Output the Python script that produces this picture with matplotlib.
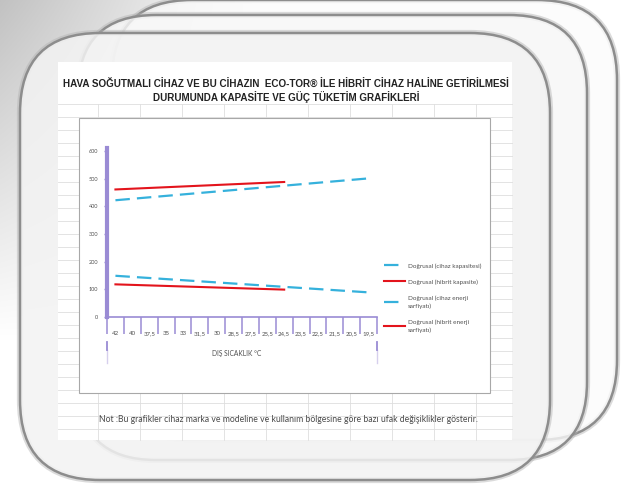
import numpy as np
import matplotlib
matplotlib.use("Agg")
import matplotlib.pyplot as plt
from matplotlib.patches import FancyBboxPatch, Rectangle
from matplotlib.transforms import blended_transform_factory

# categories (outside temperature, degC)
sicaklik = ["42", "40", "37,5", "35", "33", "31,5", "30", "28,5",
            "27,5", "25,5", "24,5", "23,5", "22,5", "21,5", "20,5", "19,5"]

# linear trendlines: category index of start/end and value there
cihaz_kapasite_idx = [0, 15]
cihaz_kapasite = [422, 501]
hibrit_kapasite_idx = [0, 10]
hibrit_kapasite = [461, 488]
cihaz_enerji_idx = [0, 15]
cihaz_enerji = [149, 89]
hibrit_enerji_idx = [0, 10]
hibrit_enerji = [118, 99]

y_ticks = [0, 100, 200, 300, 400, 500, 600]

baslik = ("HAVA SOĞUTMALI CİHAZ VE BU CİHAZIN  ECO-TOR® İLE HİBRİT CİHAZ HALİNE GETİRİLMESİ\n"
          "DURUMUNDA KAPASİTE VE GÜÇ TÜKETİM GRAFİKLERİ")
not_metni = ("Not :Bu grafikler cihaz marka ve modeline ve kullanım bölgesine "
             "göre bazı ufak değişiklikler gösterir.")

W, H = 621, 484
PURPLE = "#9a8bd4"
CYAN = "#35b1dc"
RED = "#e3141c"
TXT = "#505050"
FONT = ["Lato", "DejaVu Sans"]

fig = plt.figure(figsize=(W / 100, H / 100), dpi=100)

# ---- background decoration, pixel coordinates ----
bg = fig.add_axes([0, 0, 1, 1])
bg.set_xlim(0, W)
bg.set_ylim(H, 0)
bg.axis("off")

yy, xx = np.mgrid[0:H, 0:W]
shade = 1 - 0.24 * np.clip(1 - yy / 340, 0, 1) * np.clip(1 - xx / 260, 0, 1)
bg.imshow(np.dstack([shade] * 3), extent=(0, W, H, 0), zorder=0)


def card(x0, y0, x1, y1, r, face, alpha):
    shadow = FancyBboxPatch((x0, y0), x1 - x0, y1 - y0,
                            boxstyle=f"round,pad=0,rounding_size={r}",
                            fc="none", ec="#b0b0b0", lw=4.5, alpha=0.45, zorder=1)
    body = FancyBboxPatch((x0, y0), x1 - x0, y1 - y0,
                          boxstyle=f"round,pad=0,rounding_size={r}",
                          fc=face, ec="none", alpha=alpha, zorder=1)
    edge = FancyBboxPatch((x0, y0), x1 - x0, y1 - y0,
                          boxstyle=f"round,pad=0,rounding_size={r}",
                          fc="none", ec="#8d8d8d", lw=1.8, zorder=1)
    for p in (shadow, body, edge):
        bg.add_patch(p)


card(112, 0, 617, 440, 80, "#fbfbfb", 0.75)
card(78, 15, 587, 460, 78, "#f8f8f8", 0.8)
card(20, 33, 550, 480, 80, "#f3f3f3", 0.85)

# spreadsheet area with grid
bg.add_patch(Rectangle((58, 62), 454, 378, fc="white", ec="none", zorder=2))
for gx in np.arange(98, 512, 42):
    bg.plot([gx, gx], [104, 440], color="#dedede", lw=0.6, zorder=2)
for gy in np.arange(104, 441, 13):
    bg.plot([58, 512], [gy, gy], color="#dedede", lw=0.6, zorder=2)

# chart box
bg.add_patch(Rectangle((79, 118), 411, 275, fc="white", ec="#a8a8a8", lw=0.8, zorder=3))

bg.text(286, 91, baslik, ha="center", va="center", fontsize=7.1, fontweight="bold",
        family=["Liberation Sans", "DejaVu Sans"], color="#222222",
        linespacing=1.2, zorder=4)
bg.text(288, 420, not_metni, ha="center", va="center", fontsize=6.2,
        family=FONT, color="#4a4a4a", zorder=4)

# ---- chart ----
ax = fig.add_axes([107 / W, 1 - 317 / H, 270 / W, 166 / H], zorder=5)
ax.patch.set_alpha(0)
ax.set_xlim(-0.5, len(sicaklik) - 0.5)
ax.set_ylim(0, 600)

dash = (6.5, 3.2)
ax.plot(cihaz_kapasite_idx, cihaz_kapasite, color=CYAN, lw=1.6, dashes=dash,
        label="Doğrusal (cihaz kapasitesi)")
ax.plot(hibrit_kapasite_idx, hibrit_kapasite, color=RED, lw=1.5,
        label="Doğrusal (hibrit kapasite)")
ax.plot(cihaz_enerji_idx, cihaz_enerji, color=CYAN, lw=1.6, dashes=dash,
        label="Doğrusal (cihaz enerji\nsarfiyatı)")
ax.plot(hibrit_enerji_idx, hibrit_enerji, color=RED, lw=1.5,
        label="Doğrusal (hibrit enerji\nsarfiyatı)")

for s in ("top", "right"):
    ax.spines[s].set_visible(False)
ax.spines["left"].set_color(PURPLE)
ax.spines["left"].set_linewidth(3.0)
ax.spines["left"].set_bounds(0, 612)
ax.spines["bottom"].set_color(PURPLE)
ax.spines["bottom"].set_linewidth(1.2)

ax.set_yticks(y_ticks)
ax.tick_params(axis="y", length=2.5, width=1, color=PURPLE, pad=4,
               labelsize=4.0, labelcolor=TXT)
ax.set_xticks(range(len(sicaklik)))
ax.set_xticklabels(sicaklik)
ax.set_xticks(np.arange(-0.5, len(sicaklik)), minor=True)
ax.tick_params(axis="x", which="major", length=0, pad=10, labelsize=4.4, labelcolor=TXT)
ax.tick_params(axis="x", which="minor", length=12, width=1.1, color=PURPLE)
for lab in ax.get_xticklabels() + ax.get_yticklabels():
    lab.set_family(FONT)

# multi-level category bracket below labels
tr = blended_transform_factory(ax.transData, ax.transAxes)
for xb in (-0.5, len(sicaklik) - 0.5):
    ax.plot([xb, xb], [-0.15, -0.2], color=PURPLE, lw=1.3, transform=tr, clip_on=False)
    ax.plot([xb, xb], [-0.2, -0.275], color=PURPLE, lw=1.0, alpha=0.4,
            transform=tr, clip_on=False)

ax.text(0.48, -0.22, "DIŞ SICAKLIK °C", transform=ax.transAxes, ha="center",
        va="center", fontsize=4.8, family=FONT, color=TXT)

leg = ax.legend(loc="upper left", bbox_to_anchor=(1.015, 0.34), frameon=False,
                prop={"family": FONT, "size": 4.6}, handlelength=3.4,
                handletextpad=0.4, labelspacing=1.65, borderaxespad=0)
for t in leg.get_texts():
    t.set_color(TXT)
    t.set_linespacing(1.55)

fig.savefig("out.png", dpi=100)
